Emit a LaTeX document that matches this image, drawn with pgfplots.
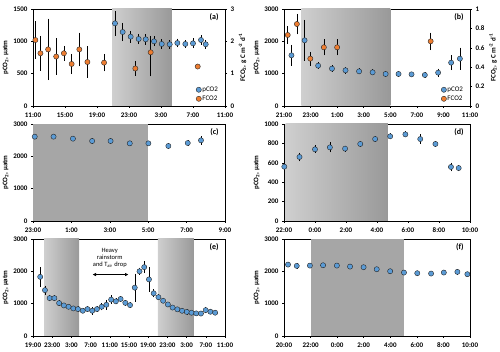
\documentclass[border=0pt]{standalone}
\usepackage{fontspec}
\setmainfont{Carlito}
\usepackage{pgfplots}
\pgfplotsset{compat=1.18}
\usetikzlibrary{arrows.meta}

\definecolor{pblue}{HTML}{5B9BD5}
\definecolor{porange}{HTML}{ED7D31}
\definecolor{shadeL}{HTML}{CFCFCF}
\definecolor{shadeR}{HTML}{999999}
\definecolor{shadeS}{HTML}{A6A6A6}

\tikzset{plabel/.style={anchor=east, font=\fontsize{8}{9}\selectfont\bfseries}}

\pgfplotsset{
  base/.style={scale only axis, anchor=south west, ymin=0, clip=false,
    tick align=outside, major tick length=2pt,
    xtick pos=bottom, ytick pos=left,
    scaled y ticks=false,
    /pgf/number format/assume math mode=true,
    /pgf/number format/1000 sep={},
    tick label style={font=\fontsize{7}{8}\selectfont\bfseries},
    label style={font=\fontsize{7}{8}\selectfont\bfseries},
    axis line style={black, line width=0.5pt},
    every tick/.style={black, line width=0.5pt},
    xticklabel style={yshift=-1pt},
    ylabel style={yshift=-2pt}},
  base2/.style={scale only axis, anchor=south west, ymin=0, clip=false,
    axis y line*=right, axis x line=none,
    tick align=outside, major tick length=2pt,
    scaled y ticks=false,
    /pgf/number format/assume math mode=true,
    tick label style={font=\fontsize{7}{8}\selectfont\bfseries},
    label style={font=\fontsize{7}{8}\selectfont\bfseries},
    axis line style={black, line width=0.5pt},
    every tick/.style={black, line width=0.5pt},
    ylabel style={yshift=2pt},
    legend style={draw=none, fill=none, font=\fontsize{7}{8}\selectfont,
      at={(0.985,0.01)}, anchor=south east, row sep=1pt,
      nodes={inner sep=1pt}},
    legend cell align=left},
  ptsB/.style={only marks, mark=*, mark size=2.6pt,
    mark options={fill=pblue, draw=black!85, line width=0.4pt},
    error bars/.cd, y dir=both, y explicit, error mark=-,
    error bar style={black, line width=0.5pt},
    error mark options={black, mark size=2pt, line width=0.5pt}},
  ptsO/.style={only marks, mark=*, mark size=2.6pt,
    mark options={fill=porange, draw=black!85, line width=0.4pt},
    error bars/.cd, y dir=both, y explicit, error mark=-,
    error bar style={black, line width=0.5pt},
    error mark options={black, mark size=2pt, line width=0.5pt}},
}

\begin{document}
\begin{tikzpicture}
\useasboundingbox (0pt,0pt) rectangle (500pt,352pt);

%%%%%%%%%%%%%%%% (a)
\begin{axis}[base, at={(33pt,246pt)}, width=192pt, height=97pt,
  xmin=11, xmax=35, xtick={11,15,...,35},
  xticklabels={11:00,15:00,19:00,23:00,3:00,7:00,11:00},
  ymax=1500, ytick={0,500,1000,1500},
  ylabel={pCO\textsubscript{2}, µatm}]
\addplot[draw=none, left color=shadeL, right color=shadeR, forget plot]
  coordinates {(20.9,1500) (28.35,1500)} \closedcycle;
\addplot[ptsB] coordinates {
 (21.25,1278) +- (0,160)
 (22.21,1144) +- (0,110)
 (23.21,1072) +- (0,60)
 (24.21,1036) +- (0,50)
 (25.09,1031) +- (0,50)
 (26.13,1000) +- (0,45)
 (27.09,959) +- (0,40)
 (28.09,954) +- (0,35)
 (29.04,974) +- (0,35)
 (30.04,959) +- (0,30)
 (31.00,969) +- (0,45)
 (32.00,1021) +- (0,45)
 (32.59,954) +- (0,35)
};
\node[plabel] at (rel axis cs:0.985,0.92) {(a)};
\end{axis}
\begin{axis}[base2, at={(33pt,246pt)}, width=192pt, height=97pt,
  xmin=11, xmax=35, ymax=3, ytick={0,1,2,3},
  ylabel={FCO\textsubscript{2}, g C m\textsuperscript{-2} d\textsuperscript{-1}}]
\addlegendimage{ptsB}
\addlegendentry{pCO2}
\addplot[ptsO] coordinates {
 (11.30,2.04) +- (0,0.52)
 (11.93,1.63) +- (0,0.48)
 (12.89,1.75) +- (0,0.89)
 (13.90,1.53) +- (0,0.50)
 (14.86,1.63) +- (0,0.17)
 (15.83,1.30) +- (0,0.25)
 (16.79,1.75) +- (0,0.46)
 (17.80,1.36) +- (0,0.42)
 (19.88,1.34) +- (0,0.21)
 (23.79,1.16) +- (0,0.17)
 (25.71,1.66) += (0,0.45) -= (0,0.68)
 (31.59,1.22) +- (0,0)
};
\addlegendentry{FCO2}
\end{axis}

%%%%%%%%%%%%%%%% (b)
\begin{axis}[base, at={(284pt,246pt)}, width=186pt, height=97pt,
  xmin=21, xmax=35, xtick={21,23,...,35},
  xticklabels={21:00,23:00,1:00,3:00,5:00,7:00,9:00,11:00},
  ymax=3000, ytick={0,1000,2000,3000},
  ylabel={pCO\textsubscript{2}, µatm}]
\addplot[draw=none, left color=shadeL, right color=shadeR, forget plot]
  coordinates {(22.3,3000) (29.0,3000)} \closedcycle;
\addplot[ptsB] coordinates {
 (21.56,1567) +- (0,260)
 (22.55,2031) +- (0,570)
 (23.57,1247) +- (0,40)
 (24.61,1155) +- (0,40)
 (25.63,1103) +- (0,40)
 (26.65,1072) +- (0,30)
 (27.67,1041) +- (0,30)
 (28.65,990) +- (0,30)
 (29.62,990) +- (0,30)
 (30.60,979) +- (0,25)
 (31.60,959) +- (0,25)
 (32.60,1031) +- (0,60)
 (33.58,1340) +- (0,170)
 (34.24,1464) +- (0,280)
};
\node[plabel] at (rel axis cs:0.985,0.92) {(b)};
\end{axis}
\begin{axis}[base2, at={(284pt,246pt)}, width=186pt, height=97pt,
  xmin=21, xmax=35, ymax=1, ytick={0,0.2,0.4,0.6,0.8,1},
  ylabel={FCO\textsubscript{2}, g C m\textsuperscript{-2} d\textsuperscript{-1}}]
\addlegendimage{ptsB}
\addlegendentry{pCO2}
\addplot[ptsO] coordinates {
 (21.28,0.732) +- (0,0.07)
 (21.97,0.845) +- (0,0.085)
 (22.98,0.488) +- (0,0.05)
 (24.00,0.605) +- (0,0.062)
 (25.00,0.605) +- (0,0.062)
 (32.04,0.667) +- (0,0.07)
};
\addlegendentry{FCO2}
\end{axis}

%%%%%%%%%%%%%%%% (c)
\begin{axis}[base, at={(33pt,131pt)}, width=192pt, height=97pt,
  xmin=23, xmax=33, xtick={23,25,...,33},
  xticklabels={23:00,1:00,3:00,5:00,7:00,9:00},
  ymax=3000, ytick={0,1000,2000,3000},
  ylabel={pCO\textsubscript{2}, µatm}]
\addplot[draw=none, fill=shadeS, forget plot]
  coordinates {(23,3000) (29.0,3000)} \closedcycle;
\addplot[ptsB] coordinates {
 (23.09,2608) +- (0,20)
 (24.07,2608) +- (0,20)
 (25.08,2546) +- (0,20)
 (26.08,2474) +- (0,20)
 (27.04,2474) +- (0,20)
 (28.04,2402) +- (0,20)
 (29.01,2402) +- (0,20)
 (30.05,2320) +- (0,20)
 (31.06,2412) +- (0,20)
 (31.75,2495) +- (0,70)
};
\node[plabel] at (rel axis cs:0.985,0.92) {(c)};
\end{axis}

%%%%%%%%%%%%%%%% (d)
\begin{axis}[base, at={(284pt,131pt)}, width=186pt, height=97pt,
  xmin=22, xmax=34, xtick={22,24,...,34},
  xticklabels={22:00,0:00,2:00,4:00,6:00,8:00,10:00},
  ymax=1000, ytick={0,200,...,1000},
  ylabel={pCO\textsubscript{2}, µatm}]
\addplot[draw=none, left color=shadeL, right color=shadeR, forget plot]
  coordinates {(22.1,1000) (28.7,1000)} \closedcycle;
\addplot[ptsB] coordinates {
 (22.02,560) +- (0,50)
 (23.00,660) +- (0,25)
 (24.00,739) +- (0,20)
 (24.96,759) +- (0,30)
 (25.94,746) +- (0,10)
 (26.92,794) +- (0,10)
 (27.88,845) +- (0,10)
 (28.85,873) +- (0,10)
 (29.83,893) +- (0,10)
 (30.79,845) +- (0,30)
 (31.77,794) +- (0,10)
 (32.77,557) +- (0,25)
 (33.27,546) +- (0,10)
};
\node[plabel] at (rel axis cs:0.985,0.92) {(d)};
\end{axis}

%%%%%%%%%%%%%%%% (e)
\begin{axis}[base, at={(33pt,16pt)}, width=192pt, height=97pt,
  xmin=19, xmax=59, xtick={19,23,...,59},
  xticklabels={19:00,23:00,3:00,7:00,11:00,15:00,19:00,23:00,3:00,7:00,11:00},
  ymax=3000, ytick={0,1000,2000,3000},
  ylabel={pCO\textsubscript{2}, µatm}]
\addplot[draw=none, left color=shadeL, right color=shadeR, forget plot]
  coordinates {(21.3,3000) (28.6,3000)} \closedcycle;
\addplot[draw=none, left color=shadeL, right color=shadeR, forget plot]
  coordinates {(45.0,3000) (52.5,3000)} \closedcycle;
\addplot[ptsB] coordinates {
 (20.50,1829) +- (0,240)
 (21.49,1418) +- (0,80)
 (22.47,1171) +- (0,40)
 (23.46,1171) +- (0,30)
 (24.44,1017) +- (0,20)
 (25.43,945) +- (0,20)
 (26.41,904) +- (0,20)
 (27.40,853) +- (0,20)
 (28.38,832) +- (0,20)
 (29.37,781) +- (0,20)
 (30.35,832) +- (0,20)
 (31.34,781) +- (0,60)
 (32.32,832) +- (0,20)
 (33.31,904) +- (0,50)
 (34.29,966) +- (0,90)
 (35.28,1125) +- (0,70)
 (36.26,1072) +- (0,30)
 (37.25,1145) +- (0,30)
 (38.23,1025) +- (0,20)
 (39.22,955) +- (0,20)
 (40.20,1495) +- (0,370)
 (41.19,2000) +- (0,50)
 (42.17,2130) +- (0,120)
 (43.16,1750) +- (0,320)
 (44.14,1320) +- (0,60)
 (45.13,1200) +- (0,30)
 (46.11,1090) +- (0,20)
 (47.10,975) +- (0,20)
 (48.08,880) +- (0,20)
 (49.07,825) +- (0,20)
 (50.05,780) +- (0,20)
 (51.04,745) +- (0,20)
 (52.02,720) +- (0,20)
 (53.01,700) +- (0,20)
 (53.99,695) +- (0,20)
 (54.98,800) +- (0,40)
 (55.96,750) +- (0,20)
 (56.95,720) +- (0,20)
};
\draw[{Latex[length=3.5pt,width=3.5pt]}-{Latex[length=3.5pt,width=3.5pt]}, line width=1pt]
  (axis cs:31.4,1900) -- (axis cs:38.9,1900);
\node[align=center, font=\fontsize{6.5}{6.8}\selectfont] at (axis cs:35,2420)
  {Heavy\\rainstorm\\and T\textsubscript{air} drop};
\node[plabel] at (rel axis cs:0.985,0.92) {(e)};
\end{axis}

%%%%%%%%%%%%%%%% (f)
\begin{axis}[base, at={(284pt,16pt)}, width=186pt, height=97pt,
  xmin=20, xmax=34, xtick={20,22,...,34},
  xticklabels={20:00,22:00,0:00,2:00,4:00,6:00,8:00,10:00},
  ymax=3000, ytick={0,1000,2000,3000},
  ylabel={pCO\textsubscript{2}, µatm}]
\addplot[draw=none, fill=shadeS, forget plot]
  coordinates {(22,3000) (29.0,3000)} \closedcycle;
\addplot[ptsB] coordinates {
 (20.30,2209) +- (0,20)
 (20.96,2168) +- (0,20)
 (21.95,2178) +- (0,20)
 (22.94,2188) +- (0,20)
 (23.98,2178) +- (0,20)
 (24.97,2147) +- (0,20)
 (25.99,2127) +- (0,20)
 (26.98,2065) +- (0,20)
 (27.99,2003) +- (0,20)
 (29.03,1962) +- (0,20)
 (30.03,1942) +- (0,20)
 (31.07,1931) +- (0,20)
 (32.03,1962) +- (0,20)
 (33.05,1983) +- (0,20)
 (33.80,1911) +- (0,20)
};
\node[plabel] at (rel axis cs:0.985,0.92) {(f)};
\end{axis}
\end{tikzpicture}
\end{document}
